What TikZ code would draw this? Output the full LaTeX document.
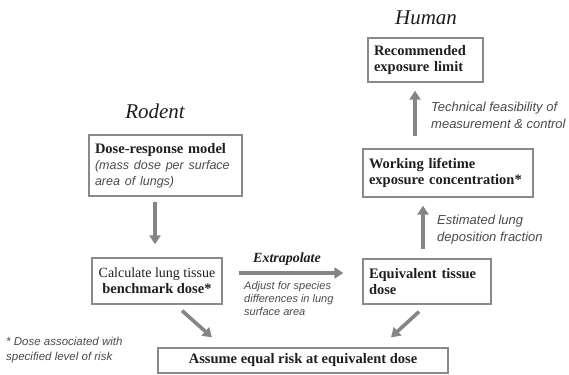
\documentclass[tikz,border=0pt]{standalone}
\usepackage{fontspec}
\setmainfont{Liberation Serif}
\newfontfamily\annfont{Liberation Sans}
\usetikzlibrary{arrows.meta}
\definecolor{boxline}{HTML}{8A8A8A}
\definecolor{arrowgray}{HTML}{858585}
\definecolor{txt}{HTML}{1E1E1E}
\definecolor{anntxt}{HTML}{4A4A4A}
\begin{document}
\begin{tikzpicture}[x=1pt,y=-1pt,
  box/.style={draw=boxline,line width=1.3pt,inner xsep=6pt,inner ysep=0pt,
    font=\fontsize{14.5}{16}\selectfont\bfseries,text=txt},
  arr/.style={draw=arrowgray,line width=3.6pt,-{Triangle[length=9pt,width=11pt]}},
  ann/.style={font=\annfont\itshape\fontsize{13}{17}\selectfont,text=anntxt,align=left,inner sep=0pt},
  smallann/.style={font=\annfont\itshape\fontsize{11}{13}\selectfont,text=anntxt,align=left,inner sep=0pt},
  title/.style={font=\fontsize{21}{24}\selectfont\itshape,text=txt,inner sep=0pt}]
\useasboundingbox (0,0) rectangle (569,374);

% titles
\node[title] (human) at (426,18) {Human};
\node[title] (rodent) at (155,111) {Rodent};

% boxes
\node[box,minimum width=115pt,minimum height=44pt,text width=103pt,align=left] (rec) at (425.5,60)
  {Recommended\\exposure limit};
\node[box,minimum width=153pt,minimum height=61pt,text width=141pt,align=left] (dose) at (165.5,165.5)
  {Dose-response model\\{\annfont\mdseries\itshape\fontsize{12.5}{14}\selectfont\color{anntxt}(mass dose per surface}\\{\annfont\mdseries\itshape\fontsize{12.5}{14}\selectfont\color{anntxt}area of lungs)}};
\node[box,minimum width=170pt,minimum height=48pt,text width=158pt,align=left] (work) at (448,173)
  {Working lifetime\\exposure concentration*};
\node[box,minimum width=130pt,minimum height=46pt,inner xsep=2pt,align=center] (calc) at (157,281)
  {{\mdseries\fontsize{14}{16}\selectfont Calculate lung tissue}\\benchmark dose*};
\node[box,minimum width=128pt,minimum height=45pt,text width=116pt,align=left] (equiv) at (427,281.5)
  {Equivalent tissue\\dose};
\node[box,minimum width=290pt,minimum height=25pt,align=center] (assume) at (303,360.5)
  {Assume equal risk at equivalent dose};

% connectors
\draw[arr,shorten <=5pt,shorten >=13pt] ([xshift=-10.5pt]dose.south) -- ([xshift=-2pt]calc.north);
\draw[arr,shorten <=9pt,shorten >=8pt] ([xshift=-4pt]equiv.north) -- ([xshift=-25pt]work.south);
\draw[arr,shorten <=12pt,shorten >=8pt] ([xshift=-33pt]work.north) -- ([xshift=-10.5pt]rec.south);
\draw[arr,shorten <=16pt,shorten >=19pt] ([yshift=8pt]calc.east) -- ([yshift=8.5pt]equiv.west);
\draw[arr] ([xshift=25pt,yshift=-6pt]calc.south) -- ([xshift=-91pt,yshift=10pt]assume.north);
\draw[arr] ([xshift=-8pt,yshift=-7pt]equiv.south) -- ([xshift=88pt,yshift=10pt]assume.north);

% labels
\node[font=\fontsize{14}{16}\selectfont\bfseries\itshape,text=txt,inner sep=0pt] (extra) at (287,259) {Extrapolate};
\node[smallann,anchor=north west] (adjust) at (244,281) {Adjust for species\\differences in lung\\surface area};
\node[ann,anchor=west] (tech) at (431,115) {Technical feasibility of\\measurement \& control};
\node[ann,anchor=west] (estim) at (437,230) {Estimated lung\\deposition fraction};
\node[ann,anchor=west,font=\annfont\itshape\fontsize{11.5}{15}\selectfont] (foot) at (6,350) {* Dose associated with\\specified level of risk};
\end{tikzpicture}
\end{document}
